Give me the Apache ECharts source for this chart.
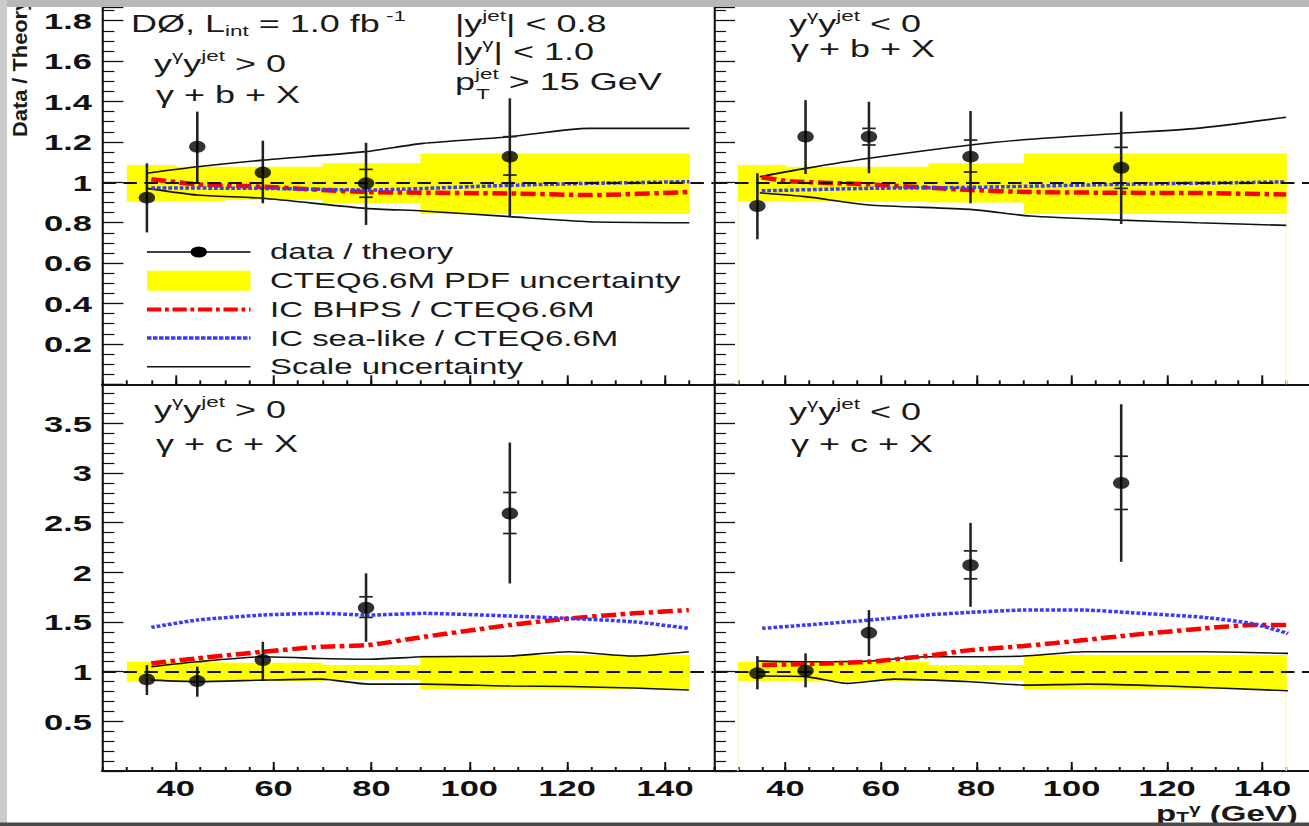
<!DOCTYPE html>
<html>
<head>
<meta charset="utf-8">
<script src="https://cdn.jsdelivr.net/npm/echarts@6/dist/echarts.min.js"></script>
<style>
  html, body { margin: 0; padding: 0; background: #fff; overflow: hidden; }
  /* the source picture is stretched sideways, so the chart is drawn narrow and widened */
  #chart { width: 873px; height: 826px; transform: scaleX(1.5); transform-origin: 0 0; }
</style>
</head>
<body>
<div id="chart"></div>
<script>
// --- data (x = photon pT in GeV, y = data / theory) ---
var binEdges = [30, 40, 50, 70, 90, 145];

// gamma + b + X, y*y > 0
var bPosX = [34.1, 44.4, 57.8, 78.9, 108.3];
var bPosY = [0.924, 1.176, 1.048, 0.995, 1.127];
var bPosLo = [0.752, 0.995, 0.896, 0.789, 0.827];
var bPosHi = [1.094, 1.350, 1.206, 1.196, 1.416];
var bPosStatLo = [null, null, null, 0.926, 1.036];
var bPosStatHi = [null, null, null, 1.064, 1.226];
var bPosPdfLo = [0.904, 0.904, 0.912, 0.896, 0.843];
var bPosPdfHi = [1.086, 1.077, 1.077, 1.094, 1.143];
var bPosScaleX = [34, 44.4, 57.8, 78.9, 90.5, 108.3, 124.3, 145];
var bPosScaleUp = [1.045, 1.077, 1.110, 1.152, 1.193, 1.226, 1.267, 1.267];
var bPosScaleDn = [0.970, 0.937, 0.921, 0.871, 0.858, 0.830, 0.805, 0.800];
var bPosBhpsX = [35, 44.4, 57.8, 79, 108, 125, 145];
var bPosBhps = [1.015, 0.990, 0.978, 0.952, 0.945, 0.937, 0.952];
var bPosSeaX = [35, 57.8, 79, 108, 125, 145];
var bPosSea = [0.972, 0.970, 0.962, 0.985, 0.995, 1.003];

// gamma + b + X, y*y < 0
var bNegX = [34.1, 44.2, 57.5, 78.8, 110.4];
var bNegY = [0.883, 1.226, 1.226, 1.127, 1.072];
var bNegLo = [0.718, 1.041, 1.045, 0.896, 0.794];
var bNegHi = [1.045, 1.407, 1.399, 1.353, 1.350];
var bNegStatLo = [null, null, 1.185, 1.051, 0.970];
var bNegStatHi = [null, null, 1.267, 1.209, 1.173];
var bNegPdfLo = [0.904, 0.904, 0.904, 0.900, 0.843];
var bNegPdfHi = [1.086, 1.077, 1.077, 1.094, 1.143];
var bNegScaleX = [34.6, 44.2, 57.5, 78.8, 91.3, 110.4, 126.3, 145];
var bNegScaleUp = [1.028, 1.069, 1.119, 1.185, 1.213, 1.243, 1.267, 1.322];
var bNegScaleDn = [0.948, 0.929, 0.888, 0.866, 0.833, 0.813, 0.800, 0.787];
var bNegBhpsX = [35, 41, 57.5, 78.8, 91.3, 110.4, 126, 145];
var bNegBhps = [1.025, 1.005, 0.990, 0.962, 0.952, 0.948, 0.947, 0.940];
var bNegSeaX = [35, 57.5, 78.8, 110.4, 145];
var bNegSea = [0.958, 0.970, 0.975, 0.990, 1.002];

// gamma + c + X, y*y > 0
var cPosX = [34.1, 44.4, 57.8, 78.9, 108.3];
var cPosY = [0.922, 0.905, 1.117, 1.643, 2.592];
var cPosLo = [0.765, 0.748, 0.915, 1.301, 1.888];
var cPosHi = [1.066, 1.050, 1.301, 1.989, 3.306];
var cPosStatLo = [null, null, null, 1.546, 2.391];
var cPosStatHi = [null, null, null, 1.754, 2.804];
var cPosPdfLo = [0.900, 0.905, 0.905, 0.915, 0.822];
var cPosPdfHi = [1.100, 1.095, 1.090, 1.066, 1.167];
var cPosCurveX = [35, 44.4, 57.8, 69.8, 79.4, 90.8, 108.3, 120.5, 133.6, 144.9];
var cPosScaleUp = [1.050, 1.100, 1.150, 1.133, 1.125, 1.150, 1.157, 1.200, 1.157, 1.200];
var cPosScaleDn = [0.915, 0.900, 0.915, 0.925, 0.875, 0.875, 0.855, 0.850, 0.835, 0.815];
var cPosBhps = [1.083, 1.134, 1.200, 1.251, 1.268, 1.351, 1.469, 1.536, 1.587, 1.620];
var cPosSea = [1.446, 1.520, 1.570, 1.587, 1.570, 1.587, 1.560, 1.536, 1.502, 1.436];

// gamma + c + X, y*y < 0
var cNegX = [34.1, 44.2, 57.5, 78.8, 110.4];
var cNegY = [0.983, 1.009, 1.391, 2.072, 2.900];
var cNegLo = [0.822, 0.842, 1.157, 1.653, 2.106];
var cNegHi = [1.157, 1.184, 1.620, 2.498, 3.692];
var cNegStatLo = [null, null, null, 1.935, 2.633];
var cNegStatHi = [null, null, null, 2.216, 3.169];
var cNegPdfLo = [0.905, 0.905, 0.905, 0.910, 0.822];
var cNegPdfHi = [1.100, 1.100, 1.100, 1.066, 1.167];
var cNegScaleUpX = [34.2, 44.2, 57.5, 69.3, 78.8, 90, 102.7, 112.4, 127.9, 145.4];
var cNegScaleUp = [1.107, 1.100, 1.107, 1.150, 1.150, 1.157, 1.200, 1.200, 1.200, 1.184];
var cNegScaleDnX = [34.2, 44.2, 53, 62.8, 78.8, 90, 103.4, 119.8, 145.4];
var cNegScaleDn = [0.956, 0.950, 0.882, 0.925, 0.899, 0.865, 0.875, 0.855, 0.808];
var cNegCurveX = [35.1, 44.2, 57.5, 69.3, 78.8, 90, 102.7, 112.4, 127.9, 137.7, 145.4];
var cNegBhps = [1.066, 1.076, 1.100, 1.157, 1.217, 1.258, 1.318, 1.368, 1.436, 1.469, 1.469];
var cNegSea = [1.436, 1.469, 1.519, 1.570, 1.597, 1.620, 1.620, 1.594, 1.546, 1.486, 1.385];

var xMajorTicks = [40, 60, 80, 100, 120, 140];

// --- look ---
var K = 1.5;
function sx(px) { return px / K; }
var FONT = "'Liberation Sans', Arial, sans-serif";
var INK = '#111';
var TEXT = '#1a1a1a';
var YELLOW = '#ffff00';
var RED = '#ff0000';
var BLUE = '#3a3aff';

var TOP_MAX = 1.868, BOT_MAX = 3.893;
var LX0 = 102.4, LX1 = 713.8, RX0 = 714, RX1 = 1310;
var TY0 = 7, MY = 384.3, BY1 = 771;

function pairs(xs, ys) { return xs.map(function (x, i) { return [x, ys[i]]; }); }
function bins(lo, hi) { return lo.map(function (v, i) { return [binEdges[i], binEdges[i + 1], v, hi[i]]; }); }
function nz(v) { return v == null ? NaN : v; }
function errs(xs, lo, hi, slo, shi) {
  return xs.map(function (x, i) { return [x, lo[i], hi[i], nz(slo[i]), nz(shi[i])]; });
}

var panels = [
  { grid: 0, ymax: TOP_MAX, step: 0.2, minor: 4, labels: true, xlabels: false, edges: false,
    pts: pairs(bPosX, bPosY), err: errs(bPosX, bPosLo, bPosHi, bPosStatLo, bPosStatHi),
    pdf: bins(bPosPdfLo, bPosPdfHi), up: pairs(bPosScaleX, bPosScaleUp), dn: pairs(bPosScaleX, bPosScaleDn),
    bhps: pairs(bPosBhpsX, bPosBhps), sea: pairs(bPosSeaX, bPosSea) },
  { grid: 1, ymax: TOP_MAX, step: 0.2, minor: 4, labels: false, xlabels: false, edges: true,
    pts: pairs(bNegX, bNegY), err: errs(bNegX, bNegLo, bNegHi, bNegStatLo, bNegStatHi),
    pdf: bins(bNegPdfLo, bNegPdfHi), up: pairs(bNegScaleX, bNegScaleUp), dn: pairs(bNegScaleX, bNegScaleDn),
    bhps: pairs(bNegBhpsX, bNegBhps), sea: pairs(bNegSeaX, bNegSea) },
  { grid: 2, ymax: BOT_MAX, step: 0.5, minor: 5, labels: true, xlabels: true, edges: false,
    pts: pairs(cPosX, cPosY), err: errs(cPosX, cPosLo, cPosHi, cPosStatLo, cPosStatHi),
    pdf: bins(cPosPdfLo, cPosPdfHi), up: pairs(cPosCurveX, cPosScaleUp), dn: pairs(cPosCurveX, cPosScaleDn),
    bhps: pairs(cPosCurveX, cPosBhps), sea: pairs(cPosCurveX, cPosSea) },
  { grid: 3, ymax: BOT_MAX, step: 0.5, minor: 5, labels: false, xlabels: true, edges: true,
    pts: pairs(cNegX, cNegY), err: errs(cNegX, cNegLo, cNegHi, cNegStatLo, cNegStatHi),
    pdf: bins(cNegPdfLo, cNegPdfHi), up: pairs(cNegScaleUpX, cNegScaleUp), dn: pairs(cNegScaleDnX, cNegScaleDn),
    bhps: pairs(cNegCurveX, cNegBhps), sea: pairs(cNegCurveX, cNegSea) }
];

var grids = [
  { left: sx(LX0), top: TY0, width: sx(LX1) - sx(LX0), height: MY - TY0 },
  { left: sx(RX0), top: TY0, width: sx(RX1) - sx(RX0), height: MY - TY0 },
  { left: sx(LX0), top: MY, width: sx(LX1) - sx(LX0), height: BY1 - MY },
  { left: sx(RX0), top: MY, width: sx(RX1) - sx(RX0), height: BY1 - MY }
];

var xAxes = [], yAxes = [];
panels.forEach(function (p, i) {
  var h = grids[i].height;
  xAxes.push({
    type: 'value', gridIndex: i, min: 25, max: 150, interval: 5, position: 'bottom',
    axisLine: { show: true, onZero: false, lineStyle: { color: INK, width: 2 } },
    axisTick: { show: true, inside: true, length: 4, lineStyle: { color: INK, width: 1.3 } },
    axisLabel: {
      show: p.xlabels, margin: 5, color: INK, fontFamily: FONT, fontWeight: 'bold', fontSize: 23,
      formatter: function (v) { return xMajorTicks.indexOf(v) >= 0 ? String(v) : ''; }
    },
    splitLine: { show: false }
  });
  // longer ticks at the labelled values, moved down onto the bottom edge
  xAxes.push({
    type: 'value', gridIndex: i, min: 25, max: 150, position: 'top', offset: -h,
    axisLine: { show: false, onZero: false },
    axisTick: { show: true, inside: false, length: 9, customValues: xMajorTicks, lineStyle: { color: INK, width: 1.3 } },
    axisLabel: { show: false },
    splitLine: { show: false }
  });
  yAxes.push({
    type: 'value', gridIndex: i, min: 0, max: p.ymax, interval: p.step,
    axisLine: { show: true, onZero: false, lineStyle: { color: INK, width: 1.4 } },
    axisTick: { show: true, inside: true, length: 14, lineStyle: { color: INK, width: 1.3 } },
    minorTick: { show: true, splitNumber: p.minor, length: 8, lineStyle: { color: INK, width: 1.2 } },
    axisLabel: {
      show: p.labels, margin: 7, color: INK, fontFamily: FONT, fontWeight: 'bold', fontSize: 23,
      formatter: function (v) { return (v > 0.001 && v < p.ymax - 0.05) ? String(+v.toFixed(2)) : ''; }
    },
    splitLine: { show: false }
  });
});

function bandRenderer(edges, count) {
  return function (params, api) {
    var a = api.coord([api.value(0), api.value(3)]);
    var b = api.coord([api.value(1), api.value(2)]);
    var kids = [{
      type: 'rect',
      shape: { x: a[0], y: a[1], width: b[0] - a[0] + 0.4, height: b[1] - a[1] },
      style: { fill: YELLOW }
    }];
    if (edges) {
      var floor = api.coord([api.value(0), 0])[1];
      var faint = { stroke: '#fbf8d6', lineWidth: 1 };
      if (params.dataIndex === 0) {
        kids.push({ type: 'line', shape: { x1: a[0], y1: b[1], x2: a[0], y2: floor }, style: faint });
      }
      if (params.dataIndex === count - 1) {
        kids.push({ type: 'line', shape: { x1: b[0], y1: b[1], x2: b[0], y2: floor }, style: faint });
      }
    }
    return { type: 'group', children: kids };
  };
}

function renderErr(params, api) {
  var x = api.value(0);
  var lo = api.coord([x, api.value(1)]);
  var hi = api.coord([x, api.value(2)]);
  var st = { stroke: '#222', lineWidth: 1.7 };
  var kids = [{ type: 'line', shape: { x1: lo[0], y1: lo[1], x2: hi[0], y2: hi[1] }, style: st }];
  [3, 4].forEach(function (d) {
    var v = api.value(d);
    if (!isNaN(v)) {
      var c = api.coord([x, v]);
      kids.push({ type: 'line', shape: { x1: c[0] - 4.5, y1: c[1], x2: c[0] + 4.5, y2: c[1] }, style: st });
    }
  });
  return { type: 'group', children: kids };
}

var series = [];
panels.forEach(function (p, i) {
  var ax = { xAxisIndex: i * 2, yAxisIndex: i };
  series.push(Object.assign({
    type: 'custom', name: 'CTEQ6.6M PDF uncertainty', z: 1, color: YELLOW,
    itemStyle: { color: YELLOW },
    renderItem: bandRenderer(p.edges, p.pdf.length),
    encode: { x: [0, 1], y: [2, 3] },
    data: p.pdf
  }, ax));
  series.push(Object.assign({
    type: 'line', name: 'Scale uncertainty', z: 2, color: INK, symbol: 'none', smooth: 0.2,
    lineStyle: { color: INK, width: 1.6 },
    data: p.up,
    markLine: {
      silent: true, symbol: 'none', label: { show: false },
      lineStyle: { color: INK, width: 1.8, type: [9, 5] },
      data: [{ yAxis: 1 }]
    }
  }, ax));
  series.push(Object.assign({
    type: 'line', name: 'Scale uncertainty', z: 2, color: INK, symbol: 'none', smooth: 0.2,
    lineStyle: { color: INK, width: 1.6 },
    data: p.dn
  }, ax));
  series.push(Object.assign({
    type: 'line', name: 'IC BHPS / CTEQ6.6M', z: 3, color: RED, symbol: 'none', smooth: 0.2,
    lineStyle: { color: RED, width: 4.5, type: [10, 3, 3, 3] },
    data: p.bhps
  }, ax));
  series.push(Object.assign({
    type: 'line', name: 'IC sea-like / CTEQ6.6M', z: 3, color: BLUE, symbol: 'none', smooth: 0.2,
    lineStyle: { color: BLUE, width: 3.5, type: [2.5, 1.3] },
    data: p.sea
  }, ax));
  series.push(Object.assign({
    type: 'custom', name: 'data / theory', z: 4, color: '#000',
    renderItem: renderErr,
    encode: { x: 0, y: [1, 2] },
    data: p.err
  }, ax));
  series.push(Object.assign({
    type: 'scatter', name: 'data / theory', z: 5, color: '#000',
    symbol: 'circle', symbolSize: [11, 12],
    itemStyle: { color: '#000' },
    data: p.pts
  }, ax));
});

// --- legend icons, drawn in a 69 x 20 box ---
var IW = 69, IH = 20;
function box(x0, y0, x1, y1) {
  return 'M' + x0 + ',' + y0 + 'L' + x1 + ',' + y0 + 'L' + x1 + ',' + y1 + 'L' + x0 + ',' + y1 + 'Z';
}
function disc(cx, cy, r) {
  return 'M' + (cx - r) + ',' + cy + 'A' + r + ',' + r + ' 0 1,1 ' + (cx + r) + ',' + cy +
    'A' + r + ',' + r + ' 0 1,1 ' + (cx - r) + ',' + cy + 'Z';
}
var pin = 'M0,0L0.01,0L0,0.01Z' + 'M' + IW + ',' + IH + 'L' + (IW - 0.01) + ',' + IH + 'L' + IW + ',' + (IH - 0.01) + 'Z';
function dashed(pattern, thick) {
  var d = '', x = 0, i = 0;
  while (x < IW) {
    var len = pattern[i % pattern.length];
    if (i % 2 === 0) d += box(x, IH / 2 - thick / 2, Math.min(x + len, IW), IH / 2 + thick / 2);
    x += len; i++;
  }
  return 'path://' + pin + d;
}
var iconData = 'path://' + pin + box(0, 9.25, IW, 10.75) + disc(IW / 2, 10, 5.5);
var iconBand = 'path://' + box(0, 0, IW, IH);
var iconBhps = dashed([9.5, 2.5, 2.5, 2.5], 4);
var iconSea = dashed([3, 1], 3.5);
var iconScale = 'path://' + pin + box(0, 9.25, IW, 10.75);

// --- panel texts ---
function rich(size, bold, lh) {
  var w = bold ? 'bold' : 'normal';
  var small = Math.round(size * 0.62);
  return {
    m: { fontSize: size, lineHeight: lh, fontFamily: FONT, fontWeight: w, fill: TEXT },
    sp: { fontSize: small, lineHeight: small, verticalAlign: 'top', fontFamily: FONT, fontWeight: w, fill: TEXT },
    sb: { fontSize: small, lineHeight: small, verticalAlign: 'bottom', fontFamily: FONT, fontWeight: w, fill: TEXT }
  };
}
function label(px, baseline, str, size, bold, lh) {
  lh = lh || Math.round(size * 1.25);
  return {
    type: 'text', x: sx(px), y: baseline - lh / 2 - size * 0.35, z: 50,
    style: { text: str, rich: rich(size, bold, lh), align: 'left', verticalAlign: 'top' }
  };
}
// a lone subscript, placed by the baseline it sits on
function sub(px, baseline, str, size, bold) {
  return {
    type: 'text', x: sx(px), y: baseline + size * 0.21, z: 50,
    style: { text: str, fontSize: size, fontFamily: FONT, fontWeight: bold ? 'bold' : 'normal',
      fill: TEXT, align: 'left', verticalAlign: 'bottom' }
  };
}

var S = 24;
var texts = [
  label(131, 32, '{m|DØ, L}{sb|int}{m| = 1.0 fb}{sp| -1}', S),
  label(455, 32, '{m||y}{sp|jet}{m|| < 0.8}', S),
  label(455, 60, '{m||y}{sp|γ}{m|| < 1.0}', S),
  label(455, 90, '{m|p}{sp|jet}{m| > 15 GeV}', S),
  sub(455 + K * 0.556 * S + 1, 98, 'T', 15),
  label(154, 72, '{m|y}{sp|γ}{m|y}{sp|jet}{m| > 0}', S),
  label(156, 103, '{m|γ + b + X}', S),
  label(789, 32, '{m|y}{sp|γ}{m|y}{sp|jet}{m| < 0}', S),
  label(791, 57, '{m|γ + b + X}', S),
  label(154, 418, '{m|y}{sp|γ}{m|y}{sp|jet}{m| > 0}', S),
  label(156, 452, '{m|γ + c + X}', S),
  label(789, 420, '{m|y}{sp|γ}{m|y}{sp|jet}{m| < 0}', S),
  label(791, 452, '{m|γ + c + X}', S),
  label(1156, 821, '{m|p}{sb|T}{sp|γ}{m| (GeV)}', 22, true, 22)
];

var graphics = texts.concat([
  {
    type: 'text', x: sx(20), y: 137, rotation: Math.PI / 2, scaleX: 1.56, z: 50,
    style: { text: 'Data / Theory', fontSize: 14, fontWeight: 'bold', fontFamily: FONT, fill: TEXT,
      align: 'left', verticalAlign: 'middle' }
  },
  // grey margins of the scanned page
  { type: 'rect', z: 100, shape: { x: 0, y: 0, width: 880, height: 7 }, style: { fill: '#b8b8b8' } },
  { type: 'rect', z: 100, shape: { x: 0, y: 0, width: sx(7), height: 826 }, style: { fill: '#cbcbcb' } },
  { type: 'rect', z: 100, shape: { x: 0, y: 822.5, width: 880, height: 4 }, style: { fill: '#4a4a4a' } }
]);

var chart = echarts.init(document.getElementById('chart'), null, { renderer: 'svg' });
chart.setOption({
  animation: false,
  backgroundColor: '#fff',
  grid: grids.map(function (g) { return Object.assign({ containLabel: false, outerBoundsMode: 'none' }, g); }),
  xAxis: xAxes,
  yAxis: yAxes,
  legend: {
    orient: 'vertical', left: sx(147), top: 241, padding: 0,
    itemWidth: IW, itemHeight: IH, itemGap: 6.7,
    selectedMode: false,
    itemStyle: { borderWidth: 0 },
    textStyle: { fontSize: 22, fontFamily: FONT, color: TEXT, lineHeight: 20, padding: [0, 0, 0, 8] },
    data: [
      { name: 'data / theory', icon: iconData },
      { name: 'CTEQ6.6M PDF uncertainty', icon: iconBand },
      { name: 'IC BHPS / CTEQ6.6M', icon: iconBhps },
      { name: 'IC sea-like / CTEQ6.6M', icon: iconSea },
      { name: 'Scale uncertainty', icon: iconScale }
    ]
  },
  graphic: graphics,
  series: series
});
</script>
</body>
</html>
